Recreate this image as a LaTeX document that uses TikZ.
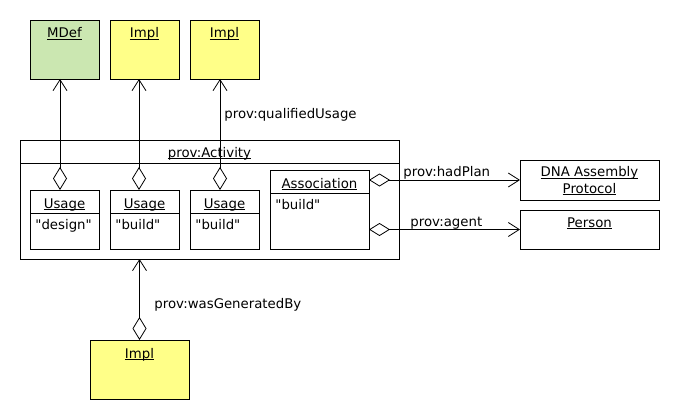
\documentclass[tikz,border=0pt]{standalone}
\usepackage{fontspec}
\setmainfont{DejaVu Sans}[Ligatures=TeXOff]
\usetikzlibrary{arrows.meta}
\definecolor{mgreen}{HTML}{CBE7B1}
\definecolor{myellow}{HTML}{FFFF88}
\newcommand\ulx[1]{\setbox0\hbox{#1}\rlap{\rule[-2pt]{\wd0}{0.7pt}}\box0}
\begin{document}
\begin{tikzpicture}[x=1pt,y=-1pt, font=\fontsize{13.3}{16}\selectfont, line width=0.8pt,
  box/.style={draw, rectangle, inner sep=0pt, outer sep=0pt},
  txt/.style={inner sep=0pt, anchor=base},
  ltxt/.style={inner sep=0pt, anchor=base west},
  agg/.style={{Diamond[open,length=23pt,width=14pt]}-{Straight Barb[length=11pt,width=14pt]}},
  aggh/.style={{Diamond[open,length=21pt,width=13pt]}-{Straight Barb[length=11pt,width=14pt]}}]
\useasboundingbox (0,0) rectangle (680,420);
% top boxes
\node[box, fill=mgreen, minimum width=69pt, minimum height=59pt] (mdef) at (64.5,49.5) {};
\node[box, fill=myellow, minimum width=69pt, minimum height=59pt] (impl1) at (144.5,49.5) {};
\node[box, fill=myellow, minimum width=69pt, minimum height=59pt] (impl2) at (224.5,49.5) {};
\node[txt] (tmdef) at (64.5,38) {\ulx{MDef}};
\node[txt] (timpl1) at (144.5,38) {\ulx{Impl}};
\node[txt] (timpl2) at (224.5,38) {\ulx{Impl}};
% activity
\node[box, minimum width=379pt, minimum height=119pt] (act) at (209.5,199.5) {};
\draw (act.west |- 0,163) -- (act.east |- 0,163);
\node[txt] (tact) at (209.5,157) {\ulx{prov:Activity}};
% usages
\node[box, minimum width=69pt, minimum height=59pt] (u1) at (64.5,219.5) {};
\node[box, minimum width=69pt, minimum height=59pt] (u2) at (144.5,219.5) {};
\node[box, minimum width=69pt, minimum height=59pt] (u3) at (224.5,219.5) {};
\draw (u1.west |- 0,213) -- (u1.east |- 0,213);
\draw (u2.west |- 0,213) -- (u2.east |- 0,213);
\draw (u3.west |- 0,213) -- (u3.east |- 0,213);
\node[txt] (tu1) at (64.5,208) {\ulx{Usage}};
\node[txt] (tu2) at (144.5,208) {\ulx{Usage}};
\node[txt] (tu3) at (224.5,208) {\ulx{Usage}};
\node[ltxt] (vu1) at (35,229) {"design"};
\node[ltxt] (vu2) at (115,229) {"build"};
\node[ltxt] (vu3) at (195,229) {"build"};
% association
\node[box, minimum width=99pt, minimum height=79pt] (assoc) at (319.5,209.5) {};
\draw (assoc.west |- 0,193) -- (assoc.east |- 0,193);
\node[txt] (tassoc) at (319.5,188) {\ulx{Association}};
\node[ltxt] (vassoc) at (275,209) {"build"};
% right boxes
\node[box, minimum width=139pt, minimum height=40pt] (dna) at (589.5,180) {};
\node[txt] (tdna1) at (589.5,176.5) {\ulx{DNA Assembly}};
\node[txt] (tdna2) at (589.5,193) {\ulx{Protocol}};
\node[box, minimum width=139pt, minimum height=39pt] (person) at (589.5,229.5) {};
\node[txt] (tperson) at (589.5,227) {\ulx{Person}};
% bottom impl
\node[box, fill=myellow, minimum width=99pt, minimum height=59pt] (impl3) at (139.5,369.5) {};
\node[txt] (timpl3) at (139.5,358) {\ulx{Impl}};
% connectors
\draw[agg] ([xshift=-4.5pt]u1.north) -- ([xshift=-4.5pt]mdef.south);
\draw[agg] ([xshift=-5.5pt]u2.north) -- ([xshift=-5.5pt]impl1.south);
\draw[agg] ([xshift=-4.5pt]u3.north) -- ([xshift=-4.5pt]impl2.south);
\draw[aggh] (assoc.east |- dna.west) -- (dna.west);
\draw[aggh] (assoc.east |- person.west) -- (person.west);
\draw[agg] (impl3.north) -- (impl3.north |- act.south);
% labels
\node[ltxt] (lqu) at (224,118.5) {prov:qualifiedUsage};
\node[ltxt] (lhp) at (403,176) {prov:hadPlan};
\node[ltxt] (lag) at (410,226) {prov:agent};
\node[ltxt] (lwg) at (154,308) {prov:wasGeneratedBy};
\end{tikzpicture}
\end{document}
